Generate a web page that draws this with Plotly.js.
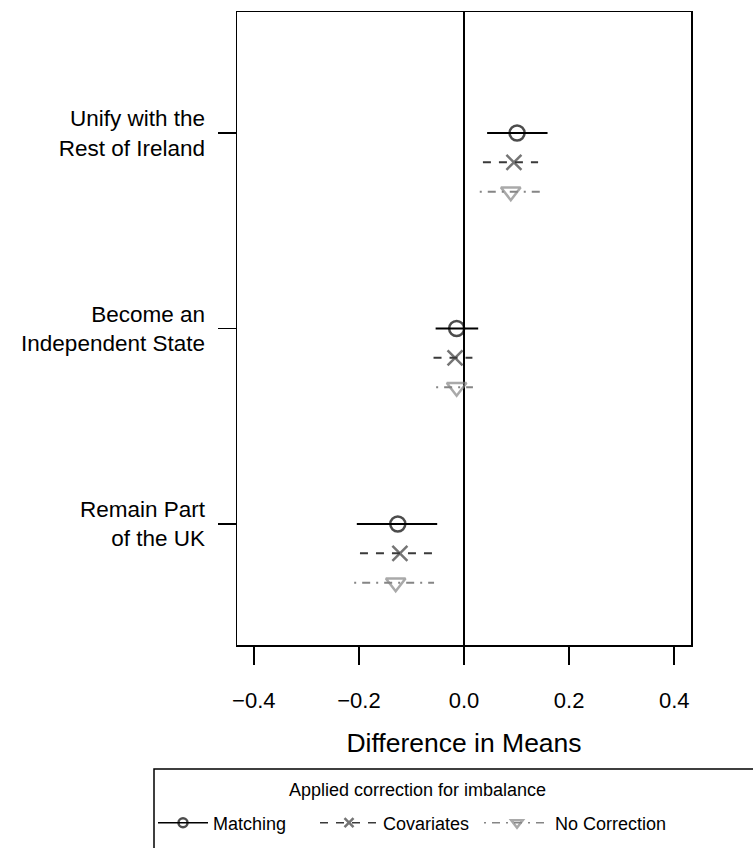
<!DOCTYPE html>
<html>
<head>
<meta charset="utf-8">
<script src="https://cdn.plot.ly/plotly-3.0.1.min.js"></script>
<style>html,body{margin:0;padding:0;background:#ffffff;}</style>
</head>
<body>
<div id="chart" style="width:753px;height:848px;"></div>
<script>
// ---- data ----
const categories = ["Unify with the<br>Rest of Ireland", "Become an<br>Independent State", "Remain Part<br>of the UK"];
const catPos = [3, 2, 1];
const seriesNames = ["Matching", "Covariates", "No Correction"];

const matchingEst = [0.101, -0.014, -0.126];
const matchingLo  = [0.044, -0.054, -0.204];
const matchingHi  = [0.159,  0.027, -0.051];

const covariatesEst = [0.095, -0.017, -0.122];
const covariatesLo  = [0.036, -0.058, -0.198];
const covariatesHi  = [0.141,  0.016, -0.061];

const noCorrEst = [0.089, -0.014, -0.130];
const noCorrLo  = [0.030, -0.053, -0.209];
const noCorrHi  = [0.145,  0.017, -0.057];

const xTicks = [-0.4, -0.2, 0.0, 0.2, 0.4];
const legendTitle = "Applied correction for imbalance";

// ---- styles ----
const styles = [
  {color: "#000000", dash: "solid", symbol: "circle-open", size: 15},
  {color: "#3a3a3a", dash: "8px,8px", symbol: "x-thin-open", size: 15},
  {color: "#858585", dash: "2px,6px,8px,6px", symbol: "triangle-down-open", size: 17}
];
const offsets = [0, 0.15, 0.30];
const legendIds = ["legend", "legend2", "legend3"];
const seriesData = [
  [matchingEst, matchingLo, matchingHi],
  [covariatesEst, covariatesLo, covariatesHi],
  [noCorrEst, noCorrLo, noCorrHi]
];

const traces = [];
seriesData.forEach((s, k) => {
  const [est, lo, hi] = s;
  const st = styles[k];
  const lx = [], ly = [], px = [], py = [], ms = [];
  catPos.forEach((p, i) => {
    const yy = p - offsets[k];
    lx.push(lo[i], hi[i], null); ly.push(yy, yy, null);
    px.push(est[i], null); py.push(yy, null);
    ms.push(st.size, 3); // second entry belongs to the gap (not drawn); keeps legend glyph small
  });
  traces.push({
    type: "scatter", mode: "lines", x: lx, y: ly, showlegend: false, hoverinfo: "skip",
    line: {color: st.color, width: 2, dash: st.dash}
  });
  traces.push({
    type: "scatter", mode: "lines+markers", name: seriesNames[k], x: px, y: py,
    legend: legendIds[k],
    connectgaps: false,
    line: {color: st.color, width: 1.5, dash: st.dash},
    marker: {symbol: st.symbol, size: ms, color: st.color, line: {color: st.color, width: 2.5}}
  });
});

const W = 753, H = 848;
const L = 237, R = 691, T = 12, B = 645;
const px2x = v => (v - L) / (R - L);
const px2y = v => (B - v) / (B - T);

// legend entry placement: [box left px, symbol width px]
const legendPlace = [[153, 50], [315, 58], [479, 66]];
function makeLegend(idx) {
  const [lx, iw] = legendPlace[idx];
  return {
    orientation: "h",
    xref: "container", yref: "container",
    x: lx / W, xanchor: "left",
    y: 1 - 823 / H, yanchor: "middle",
    bgcolor: "rgba(0,0,0,0)", borderwidth: 0,
    font: {size: 18},
    itemwidth: iw
  };
}

const layout = {
  width: W, height: H,
  margin: {l: L, r: W - R, t: T, b: H - B, pad: 0},
  paper_bgcolor: "#ffffff", plot_bgcolor: "#ffffff",
  font: {family: "Liberation Sans, Arial, sans-serif", color: "#000000"},
  showlegend: true,
  xaxis: {
    range: [-0.432, 0.432], tickvals: xTicks, tickformat: ".1f",
    ticks: "outside", ticklen: 18, tickwidth: 1.5, tickcolor: "#000",
    ticklabelstandoff: 17,
    tickfont: {size: 22},
    showgrid: false, zeroline: true, zerolinecolor: "#000", zerolinewidth: 1.5,
    showline: true, mirror: true, linecolor: "#000", linewidth: 1.5,
    title: {text: "Difference in Means", font: {size: 26.5}, standoff: 21},
    automargin: false, fixedrange: true
  },
  yaxis: {
    range: [0.381, 3.619], tickvals: catPos, ticktext: categories,
    ticks: "outside", ticklen: 18, tickwidth: 1.5, tickcolor: "#000",
    ticklabelstandoff: 8,
    tickfont: {size: 22.5},
    showgrid: false, zeroline: false,
    showline: true, mirror: true, linecolor: "#000", linewidth: 1.5,
    automargin: false, fixedrange: true
  },
  legend: makeLegend(0),
  legend2: makeLegend(1),
  legend3: makeLegend(2),
  annotations: [{
    text: legendTitle, xref: "paper", yref: "paper",
    x: px2x(417), y: px2y(790), xanchor: "center", yanchor: "middle",
    showarrow: false, font: {size: 18}
  }],
  shapes: [{
    type: "rect", xref: "paper", yref: "paper",
    x0: px2x(154), x1: px2x(780), y0: px2y(769), y1: px2y(880),
    line: {color: "#000", width: 1.5}, fillcolor: "rgba(0,0,0,0)", layer: "above"
  }]
};

Plotly.newPlot("chart", traces, layout, {displayModeBar: false, staticPlot: true});
</script>
</body>
</html>
